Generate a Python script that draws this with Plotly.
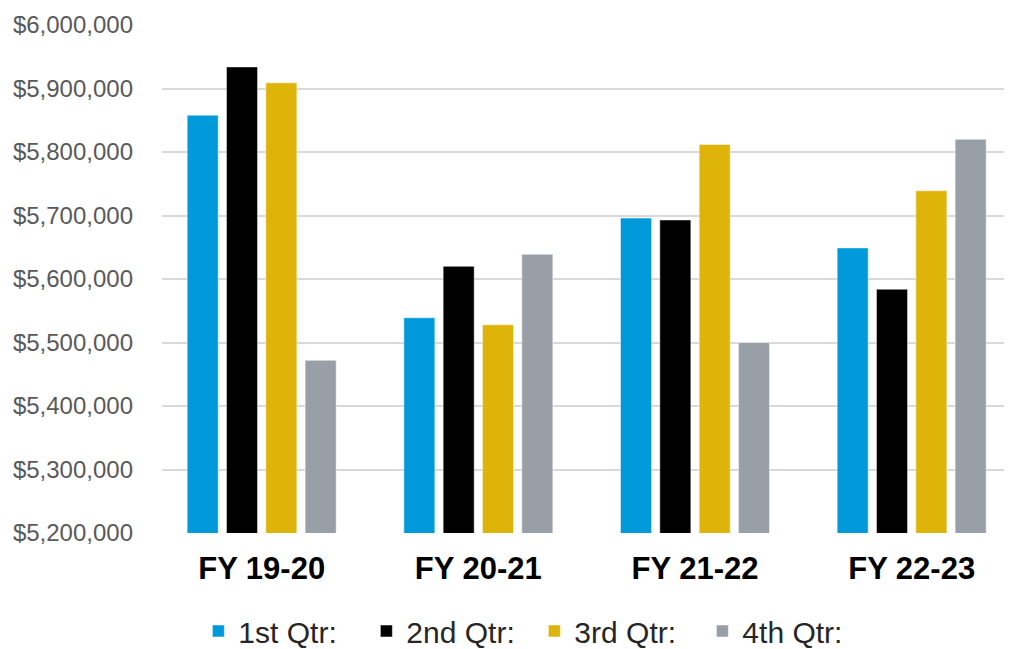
import plotly.graph_objects as go

years = ["FY 19-20", "FY 20-21", "FY 21-22", "FY 22-23"]
quarters = ["1st Qtr:", "2nd Qtr:", "3rd Qtr:", "4th Qtr:"]
q1 = [5858000, 5539000, 5696000, 5649000]
q2 = [5934000, 5620000, 5693000, 5584000]
q3 = [5909000, 5528000, 5812000, 5739000]
q4 = [5472000, 5639000, 5500000, 5820000]
colors = ["#009ADA", "#000000", "#DFB40A", "#989FA7"]

fig = go.Figure()
for name, vals, col in zip(quarters, [q1, q2, q3, q4], colors):
    fig.add_trace(go.Bar(x=years, y=vals, name=name, marker_color=col,
                         marker_line=dict(color="rgba(255,255,255,0.5)", width=1)))

fig.update_layout(
    width=1012, height=649,
    margin=dict(l=154, r=0, t=17, b=117),
    plot_bgcolor="white", paper_bgcolor="white",
    barmode="group", bargap=0.274, bargroupgap=0.21,
    font=dict(family="Liberation Sans, Arial", color="#595959"),
    legend=dict(orientation="h", x=0.434, xanchor="center", y=-0.194, yanchor="middle",
                font=dict(size=30, color="#262626"), itemwidth=30, entrywidth=123,
                traceorder="normal"),
)
fig.update_xaxes(range=[-0.46, 3.5], showgrid=False, showline=False, automargin=False,
                 tickfont=dict(size=31, color="#000000", family="Liberation Sans, Arial",
                               weight="bold"),
                 ticklabelstandoff=14)
fig.update_yaxes(range=[5200000, 6000000], dtick=100000, tickformat="$,.0f",
                 gridcolor="#D9D9D9", gridwidth=2, zeroline=False, showline=False,
                 automargin=False,
                 tickfont=dict(size=24, color="#595959"), ticklabelstandoff=28)

fig.write_html("out.html")
